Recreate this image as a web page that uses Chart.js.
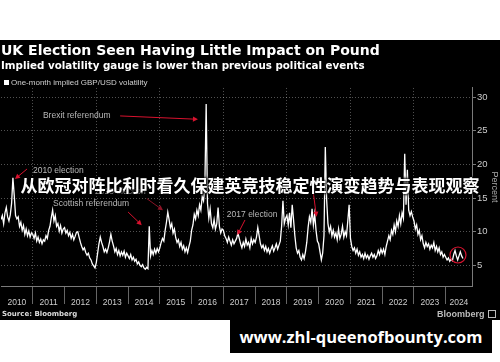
<!DOCTYPE html>
<html><head><meta charset="utf-8">
<script src="https://cdn.jsdelivr.net/npm/chart.js@4.4.1/dist/chart.umd.min.js"></script>
<style>
html,body{margin:0;padding:0;background:#fff;}
#wrap{position:relative;width:500px;height:362px;overflow:hidden;background:#fff;}
#panel{position:absolute;left:0;top:40px;width:500px;height:280px;background:#000;}
#cbox{position:absolute;left:0;top:0;width:500px;height:280px;}
#source{position:absolute;left:2px;top:270px;line-height:9px;font:bold 7px "DejaVu Sans";color:#ddd;white-space:nowrap;}
#logo{position:absolute;left:437px;top:269px;line-height:10px;font:bold 9px "Liberation Sans";color:#bbb;white-space:nowrap;}
#logo span{display:inline-block;width:6px;height:6px;border:1px solid #bbb;margin-left:3px;vertical-align:-1px;}
#overlay{position:absolute;left:0;top:175px;width:500px;line-height:20px;text-align:center;font-family:"Noto Sans CJK SC";font-weight:bold;font-size:17px;color:#fff;white-space:nowrap;text-shadow:0 0 2px #000,1px 1px 3px #000,-1px -1px 3px #000;}
#wm{position:absolute;left:230px;top:320px;width:262px;height:33px;background:#000;color:#fff;font-family:"Open Sans";font-weight:bold;font-size:16.5px;line-height:33px;text-align:center;white-space:nowrap;}
</style>
</head><body>
<div id="wrap">
  <div id="panel">
    <div id="cbox"><canvas id="c"></canvas></div>
    <div id="source">Source: Bloomberg</div>
    <div id="logo">Bloomberg<span></span></div>
  </div>
  <div id="overlay">从欧冠对阵比利时看久保建英竞技稳定性演变趋势与表现观察</div>
  <div id="wm">www.zhl-queenofbounty.com</div>
</div>
<script>
// ---- Data: one-month implied GBP/USD volatility (%), semi-monthly readings ----
const startYear = 2010;
const vol2010 = [11.8, 12.4, 11.2, 12.8, 13.6, 12.2, 11.6, 12.5, 14.2, 18.0, 15.4, 12.4, 11.9, 12.2, 10.8, 11.4, 10.2, 10.9, 9.6, 10.4, 9.4, 10.1, 9.2, 9.8];
const vol2011 = [9.6, 9.0, 9.8, 8.6, 9.2, 8.4, 8.9, 8.2, 8.8, 8.6, 9.4, 9.0, 10.2, 10.8, 12.1, 13.2, 11.6, 12.4, 10.8, 11.2, 10.1, 10.9, 9.8, 10.4];
const vol2012 = [10.6, 9.8, 10.2, 9.4, 9.9, 9.0, 9.6, 8.8, 9.3, 9.9, 10.0, 9.2, 8.4, 7.8, 7.3, 7.6, 6.9, 6.5, 6.8, 6.1, 5.8, 5.2, 4.9, 4.6];
const vol2013 = [5.4, 6.8, 8.2, 9.2, 8.4, 7.8, 7.0, 7.4, 6.9, 7.6, 8.5, 9.6, 8.6, 7.9, 7.0, 7.5, 6.6, 7.2, 6.4, 7.0, 6.5, 7.1, 6.2, 6.8];
const vol2014 = [6.4, 6.0, 6.6, 5.8, 6.2, 5.6, 5.9, 5.2, 5.5, 5.0, 4.8, 5.1, 4.6, 4.4, 4.7, 4.5, 10.8, 6.4, 7.2, 6.6, 7.4, 6.8, 7.5, 7.0];
const vol2015 = [7.6, 8.4, 9.0, 8.6, 10.2, 11.4, 12.9, 11.8, 10.6, 11.2, 9.8, 10.4, 9.1, 8.4, 8.8, 7.8, 8.4, 7.4, 7.9, 7.0, 7.6, 6.9, 7.8, 8.6];
const vol2016 = [10.2, 11.0, 12.6, 11.9, 13.2, 12.4, 14.0, 13.2, 15.2, 14.6, 16.8, 29.0, 14.2, 12.0, 13.4, 11.2, 10.6, 11.8, 10.4, 11.2, 13.6, 10.8, 9.8, 10.4];
const vol2017 = [10.2, 9.4, 9.0, 8.4, 9.2, 8.6, 8.0, 8.8, 8.2, 8.6, 9.0, 9.8, 9.0, 8.2, 7.6, 8.4, 7.8, 8.9, 8.0, 8.4, 7.6, 9.0, 8.2, 8.8];
const vol2018 = [8.4, 9.2, 10.6, 9.4, 8.2, 7.6, 8.0, 7.2, 7.8, 7.0, 7.5, 6.8, 7.4, 7.9, 7.1, 7.6, 8.2, 7.4, 8.0, 8.6, 10.8, 14.6, 11.2, 12.0];
const vol2019 = [12.4, 11.0, 12.8, 10.6, 14.0, 11.8, 9.4, 7.6, 6.8, 7.2, 6.2, 5.8, 6.6, 6.0, 7.0, 8.4, 10.6, 12.2, 11.4, 13.4, 11.0, 12.6, 10.2, 8.6];
const vol2020 = [8.2, 7.0, 5.8, 6.8, 9.4, 22.6, 14.8, 11.2, 10.0, 10.8, 9.4, 10.2, 9.2, 9.8, 8.8, 10.4, 9.0, 9.6, 10.8, 9.2, 10.0, 9.4, 11.6, 14.0];
const vol2021 = [9.0, 7.8, 7.2, 7.6, 6.8, 7.4, 6.5, 7.0, 6.2, 6.6, 6.0, 6.8, 6.1, 6.5, 5.9, 6.4, 6.8, 6.2, 6.6, 6.0, 6.4, 7.2, 6.6, 7.4];
const vol2022 = [6.8, 7.4, 6.6, 7.8, 8.6, 9.4, 8.8, 10.2, 9.6, 11.0, 10.0, 11.6, 10.8, 12.4, 11.2, 12.8, 12.0, 21.6, 14.0, 19.2, 13.2, 12.4, 13.0, 12.2];
const vol2023 = [11.6, 10.4, 11.0, 9.6, 10.2, 8.8, 9.4, 8.2, 7.6, 8.4, 7.8, 8.2, 7.4, 8.0, 7.6, 8.4, 7.2, 7.8, 7.0, 7.6, 6.6, 7.0, 6.2, 6.6];
const vol2024 = [6.2, 5.8, 6.1, 5.6, 5.9, 5.7, 6.6, 7.2, 6.4, 5.8, 6.4, 7.0, 6.4, 6.0];

const volatility = [].concat(vol2010, vol2011, vol2012, vol2013, vol2014, vol2015, vol2016,
  vol2017, vol2018, vol2019, vol2020, vol2021, vol2022, vol2023, vol2024);
const dates = volatility.map((_, i) => startYear + i / 24); // semi-monthly observation dates

const years = [2010, 2011, 2012, 2013, 2014, 2015, 2016, 2017, 2018, 2019, 2020, 2021, 2022, 2023, 2024];
const yTickValues = [5, 10, 15, 20, 25, 30];
const xMin = 2010, xMax = 2024.826, yMin = 1.92, yMax = 31.38;

const seriesLabel = 'One-month implied GBP/USD volatility';
const titleText = 'UK Election Seen Having Little Impact on Pound';
const subtitleText = 'Implied volatility gauge is lower than previous political events';

// Annotations in data coordinates (year, percent)
const notes = [
  { text: '2010 election', tx: 2011.01, ty: 19.05, from: [2010.82, 19.33], to: [2010.44, 17.84] },
  { text: 'Brexit referendum', tx: 2011.32, ty: 27.29, from: [2013.75, 27.22], to: [2016.20, 26.72] },
  { text: '2015 election', tx: 2012.96, ty: 15.90, from: [2014.59, 14.92], to: [2015.10, 13.18], dark: true },
  { text: 'Scottish referendum', tx: 2011.64, ty: 14.22, from: [2014.00, 12.93], to: [2014.43, 10.97] },
  { text: '2017 election', tx: 2017.11, ty: 12.56, from: [2017.68, 11.74], to: [2017.44, 9.51] },
  { text: null, from: [2019.82, 16.2], to: [2019.93, 12.23] }
];
const marker = { x: 2024.385, y: 6.53 };

// ---- helpers ----
const tickValues = [];
years.forEach(yr => {
  tickValues.push(yr);
  tickValues.push(Math.min(yr + 0.5, (yr + xMax) / 2));
});
const isLabelTick = v => !Number.isInteger(v);

function drawArrow(ctx, x1, y1, x2, y2, color) {
  const ang = Math.atan2(y2 - y1, x2 - x1);
  const hl = 5, hw = 2.6;
  ctx.strokeStyle = color; ctx.fillStyle = color; ctx.lineWidth = 1;
  ctx.beginPath();
  ctx.moveTo(x1, y1);
  ctx.lineTo(x2 - Math.cos(ang) * hl * 0.8, y2 - Math.sin(ang) * hl * 0.8);
  ctx.stroke();
  ctx.beginPath();
  ctx.moveTo(x2, y2);
  ctx.lineTo(x2 - Math.cos(ang) * hl - Math.sin(ang) * hw, y2 - Math.sin(ang) * hl + Math.cos(ang) * hw);
  ctx.lineTo(x2 - Math.cos(ang) * hl + Math.sin(ang) * hw, y2 - Math.sin(ang) * hl - Math.cos(ang) * hw);
  ctx.closePath();
  ctx.fill();
}

const notesPlugin = {
  id: 'notes',
  afterDatasetsDraw(chart) {
    const { ctx, scales: { x, y } } = chart;
    ctx.save();
    ctx.font = '8.5px "Liberation Sans"';
    ctx.textBaseline = 'middle';
    ctx.textAlign = 'left';
    notes.forEach(n => {
      if (n.text) {
        ctx.fillStyle = '#b8b8b8';
        ctx.fillText(n.text, x.getPixelForValue(n.tx), y.getPixelForValue(n.ty));
      }
      drawArrow(ctx, x.getPixelForValue(n.from[0]), y.getPixelForValue(n.from[1]),
        x.getPixelForValue(n.to[0]), y.getPixelForValue(n.to[1]), n.dark ? '#8c1426' : '#d8122e');
    });
    ctx.strokeStyle = '#d8122e';
    ctx.lineWidth = 1.2;
    ctx.beginPath();
    ctx.arc(x.getPixelForValue(marker.x), y.getPixelForValue(marker.y), 8, 0, Math.PI * 2);
    ctx.stroke();
    ctx.restore();
  }
};

const miniLegend = {
  id: 'miniLegend',
  afterDraw(chart) {
    const ctx = chart.ctx;
    const ds = chart.data.datasets[0];
    ctx.save();
    ctx.fillStyle = ds.borderColor;
    ctx.fillRect(4, 40, 5, 5);
    ctx.fillStyle = '#cfcfcf';
    ctx.font = '8px "Liberation Sans Narrow", "Liberation Sans"';
    ctx.textBaseline = 'middle';
    ctx.fillText(ds.label, 11, 42.8);
    ctx.restore();
  }
};

const gridDot = 'rgba(255,255,255,0.32)';
const axisGrey = '#7a7a7a';

new Chart(document.getElementById('c'), {
  type: 'line',
  data: {
    datasets: [{
      label: seriesLabel,
      data: dates.map((d, i) => ({ x: d, y: volatility[i] })),
      borderColor: '#ffffff',
      borderWidth: 1.3,
      pointRadius: 0,
      tension: 0
    }]
  },
  options: {
    responsive: true,
    maintainAspectRatio: false,
    animation: false,
    layout: { padding: { left: 1, right: 0, top: 0, bottom: 14 } },
    plugins: {
      legend: { display: false },
      tooltip: { enabled: false },
      title: {
        display: true, text: titleText, align: 'start', color: '#ffffff',
        font: { family: 'DejaVu Sans', weight: 'bold', size: 14, lineHeight: 1.2 },
        padding: { top: 3, bottom: 0 }
      },
      subtitle: {
        display: true, text: subtitleText, align: 'start', color: '#ffffff',
        font: { family: 'DejaVu Sans', weight: 'bold', size: 10.3, lineHeight: 1.2 },
        padding: { top: 0, bottom: 15.8 }
      }
    },
    scales: {
      x: {
        type: 'linear', min: xMin, max: xMax,
        afterBuildTicks: s => { s.ticks = tickValues.map(v => ({ value: v })); },
        afterFit: s => { s.height = 20; },
        ticks: {
          autoSkip: false, maxRotation: 0, minRotation: 0, padding: -6,
          color: '#cccccc',
          font: { family: '"Liberation Sans Narrow", "Liberation Sans"', size: 8.5 },
          callback: v => isLabelTick(v) ? String(Math.floor(v)) : ''
        },
        grid: {
          color: c => (c.tick && Number.isInteger(c.tick.value) && c.tick.value % 2 === 1) ? gridDot : 'rgba(0,0,0,0)',
          tickColor: c => (c.tick && Number.isInteger(c.tick.value) && c.tick.value > xMin) ? '#666666' : 'rgba(0,0,0,0)',
          tickLength: 18, lineWidth: 1
        },
        border: { display: true, color: axisGrey, width: 1, dash: [1, 2] }
      },
      y: {
        type: 'linear', position: 'right', min: yMin, max: yMax,
        afterBuildTicks: s => { s.ticks = yTickValues.map(v => ({ value: v })); },
        afterFit: s => { s.width = 28; },
        ticks: {
          padding: 1, color: '#cccccc',
          font: { family: '"Liberation Sans Narrow", "Liberation Sans"', size: 9.5 }
        },
        grid: { color: gridDot, tickColor: axisGrey, tickLength: 4, lineWidth: 1 },
        border: { display: true, color: axisGrey, width: 1, dash: [1, 2] },
        title: {
          display: true, text: 'Percent', color: '#aaaaaa',
          font: { family: '"Liberation Sans"', size: 9 },
          padding: { top: 0, bottom: 2 }
        }
      }
    }
  },
  plugins: [notesPlugin, miniLegend]
});
</script>
</body></html>
